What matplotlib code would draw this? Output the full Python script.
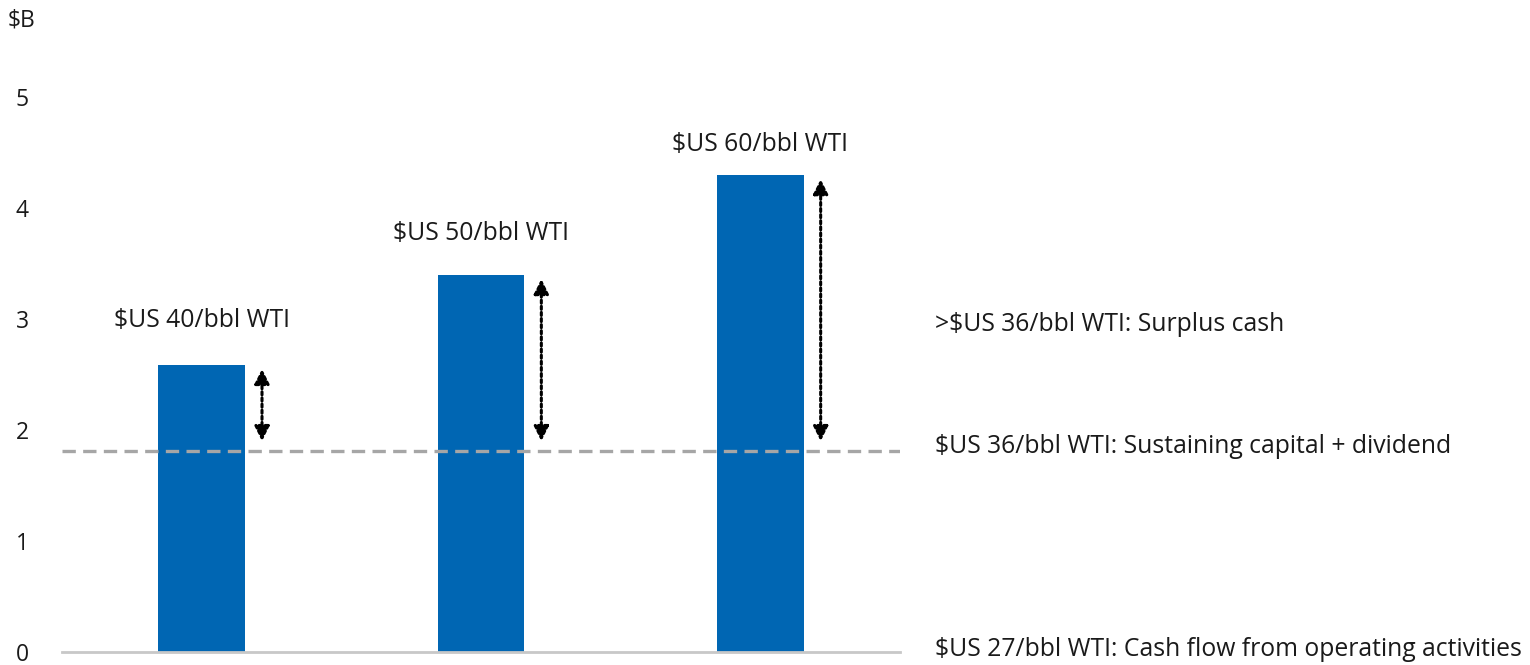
import matplotlib
matplotlib.use("Agg")
import matplotlib.pyplot as plt
from matplotlib.transforms import blended_transform_factory

plt.rcParams['font.family'] = ['Open Sans', 'DejaVu Sans']

categories = ["$US 40/bbl WTI", "$US 50/bbl WTI", "$US 60/bbl WTI"]
values = [2.59, 3.40, 4.30]
label_y = [2.99, 3.77, 4.57]
sustaining = 1.81
arrow_bottom = 1.90
yticks = [0, 1, 2, 3, 4, 5]
right_labels = [">$US 36/bbl WTI: Surplus cash",
                "$US 36/bbl WTI: Sustaining capital + dividend",
                "$US 27/bbl WTI: Cash flow from operating activities"]
right_label_y = [2.95, 1.85, 0.02]

FS = 17.8
TFS = 16.5
TXT = '#1a1a1a'

fig = plt.figure(figsize=(15.3, 6.65), dpi=100)
ax = fig.add_axes([62/1530, (665-652)/665, (900-62)/1530, (652-20)/665])
ax.set_xlim(-0.5, 2.5)
ax.set_ylim(0, (652-20)/111.0)

x = list(range(len(values)))
ax.bar(x, values, width=0.31, color='#0066B3', zorder=2)
ax.axhline(sustaining, color='#A6A6A6', linestyle=(0, (4, 2.2)), linewidth=2.4, zorder=3)

for xi, v, ly, lab in zip(x, values, label_y, categories):
    ax.text(xi, ly, lab, ha='center', va='center', fontsize=FS, color=TXT)
    ax.annotate('', xy=(xi + 0.216, v - 0.04), xytext=(xi + 0.216, arrow_bottom),
                arrowprops=dict(arrowstyle='<|-|>', linestyle=(0, (1, 1)), color='black',
                                lw=2.2, mutation_scale=22, shrinkA=0, shrinkB=0), zorder=4)

tr = blended_transform_factory(fig.transFigure, ax.transData)
for lab, yy in zip(right_labels, right_label_y):
    ax.text(935/1530, yy, lab, transform=tr, ha='left', va='center',
            fontsize=FS, color=TXT, clip_on=False)

for s in ['top', 'right', 'left']:
    ax.spines[s].set_visible(False)
ax.spines['bottom'].set_color('#C8C8C8')
ax.spines['bottom'].set_linewidth(2)
ax.set_xticks([])
ax.set_yticks(yticks)
ax.set_yticklabels([str(t) for t in yticks], fontsize=TFS, color=TXT)
for t in ax.get_yticklabels():
    t.set_horizontalalignment('center')
ax.tick_params(axis='y', length=0, pad=39.5 * 72 / 100)

fig.text(8/1530, 1 - 21/665, "$B", ha='left', va='center', fontsize=TFS, color=TXT)

fig.savefig("out.png", dpi=100)
